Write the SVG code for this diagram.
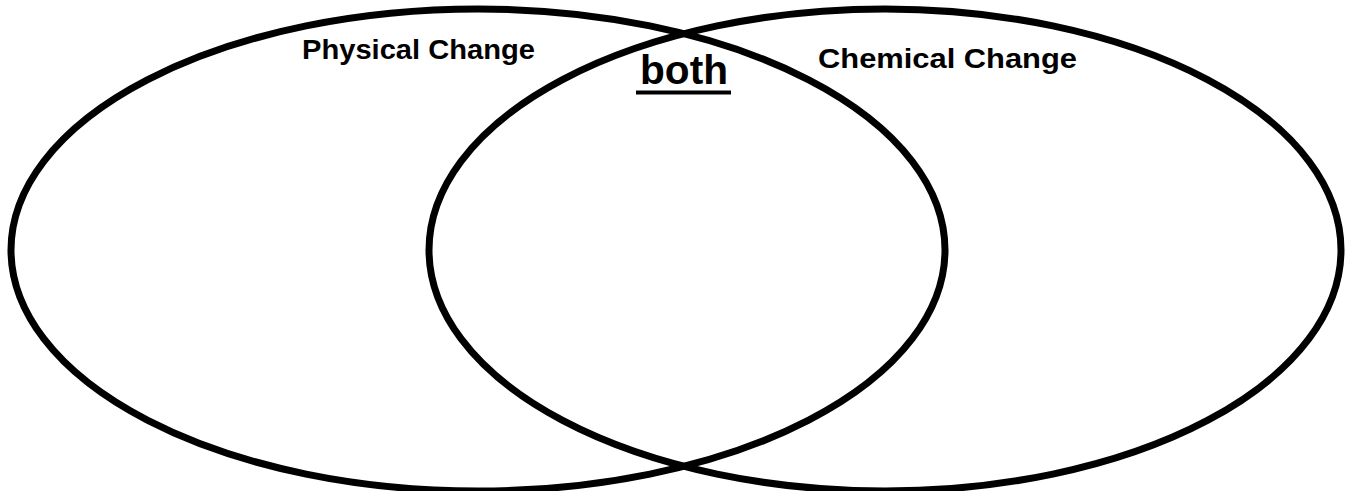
<svg xmlns="http://www.w3.org/2000/svg" width="1351" height="491" viewBox="0 0 1351 491">
<style>
.ring{fill:none;stroke:#000;stroke-width:7}
.lbl{font-family:"Liberation Sans",Arial,sans-serif;font-weight:bold;fill:#000}
</style>
<rect width="1351" height="491" fill="#fff"/>
<g id="physical">
<ellipse class="ring" cx="478" cy="250" rx="467" ry="241"/>
<text class="lbl" x="302" y="59" font-size="28" textLength="233" lengthAdjust="spacingAndGlyphs">Physical Change</text>
</g>
<g id="chemical">
<ellipse class="ring" cx="885" cy="250" rx="456" ry="241"/>
<text class="lbl" x="818" y="68" font-size="28" textLength="259" lengthAdjust="spacingAndGlyphs">Chemical Change</text>
</g>
<g id="both">
<text class="lbl" x="640" y="84" font-size="40" textLength="88" lengthAdjust="spacingAndGlyphs">both</text>
<line x1="636" y1="92.5" x2="731" y2="92.5" stroke="#000" stroke-width="4"/>
</g>
<g id="connectors"/>
</svg>
